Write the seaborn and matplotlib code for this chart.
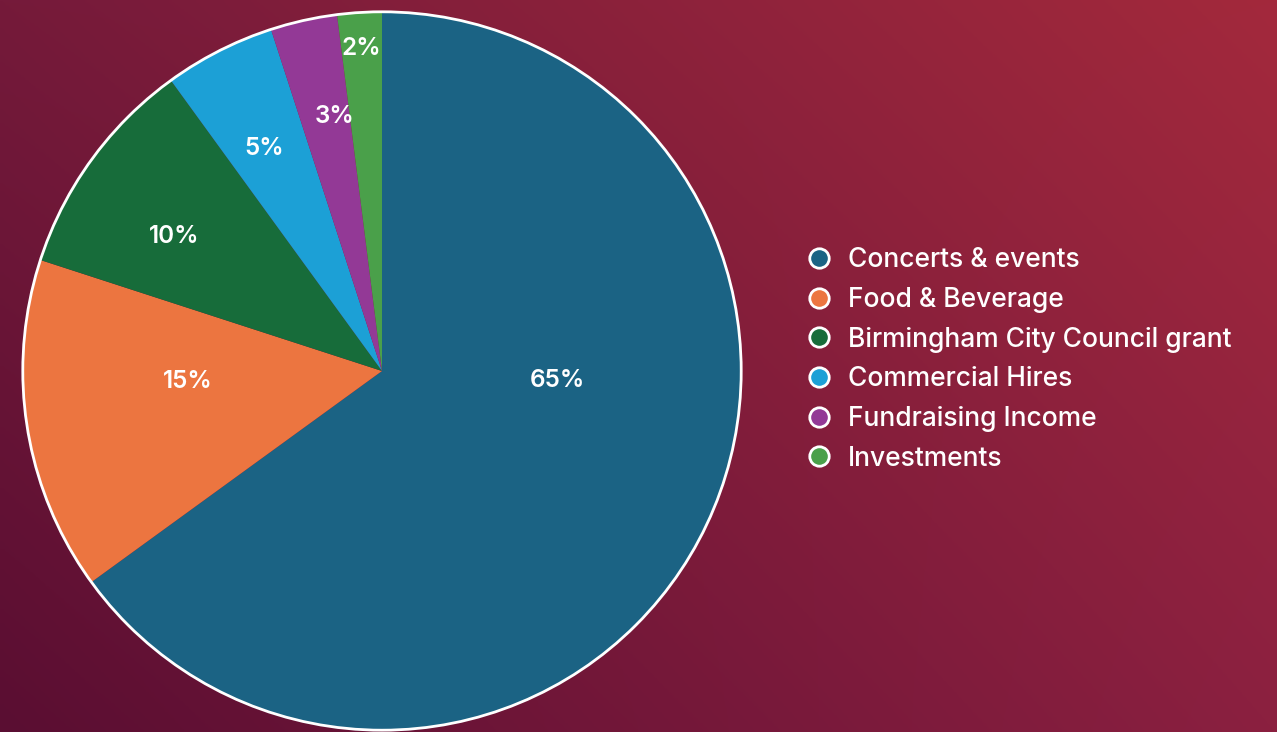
import numpy as np
import matplotlib
matplotlib.use("Agg")
import matplotlib.pyplot as plt
from matplotlib.lines import Line2D
from matplotlib.patches import Circle
from matplotlib.colors import to_rgb
import seaborn as sns

# Income breakdown
sources = ["Concerts & events", "Food & Beverage", "Birmingham City Council grant",
           "Commercial Hires", "Fundraising Income", "Investments"]
shares = [65, 15, 10, 5, 3, 2]
pct_labels = ["65%", "15%", "10%", "5%", "3%", "2%"]
colours = ["#1b6384", "#ec7540", "#176c3a", "#1ca0d6", "#933996", "#4aa04a"]

sns.set_theme(style="white")
plt.rcParams["font.family"] = ["Inter", "DejaVu Sans"]
palette = sns.color_palette(colours)

fig = plt.figure(figsize=(12.77, 7.32), dpi=100)

# background gradient (corner colours: top-left, top-right, bottom-left, bottom-right)
bg = fig.add_axes([0, 0, 1, 1])
tl, tr = np.array(to_rgb("#751a3a")), np.array(to_rgb("#a3293c"))
bl, br = np.array(to_rgb("#5a0e32")), np.array(to_rgb("#8b2040"))
u = np.linspace(0, 1, 256)[None, :, None]
v = np.linspace(0, 1, 256)[:, None, None]
grad = (1 - v) * ((1 - u) * tl + u * tr) + v * ((1 - u) * bl + u * br)
bg.imshow(grad, aspect="auto", extent=[0, 1, 0, 1], origin="upper")
bg.axis("off")

# pie
W, H = 1277, 732
cx, cy, r = 382, 371, 361
ax = fig.add_axes([(cx - r) / W, (H - cy - r) / H, 2 * r / W, 2 * r / H])
wedges, _ = ax.pie(shares, colors=palette, startangle=90, counterclock=False,
                   radius=1, wedgeprops=dict(linewidth=0))
ax.add_patch(Circle((0, 0), 1, fill=False, edgecolor="white", linewidth=2))
ax.set_xlim(-1.005, 1.005)
ax.set_ylim(-1.005, 1.005)
ax.set_aspect("equal")
ax.axis("off")

label_r = [0.49, 0.54, 0.69, 0.70, 0.72, 0.90]
label_shift = [24, -6, 3, 1, -2, 0]
for w, txt, lr, sh in zip(wedges, pct_labels, label_r, label_shift):
    ang = np.deg2rad((w.theta1 + w.theta2) / 2 + sh)
    ax.text(lr * np.cos(ang), lr * np.sin(ang), txt, ha="center", va="center",
            color="white", fontsize=17.5, fontweight="semibold")

handles = [Line2D([0], [0], marker="o", linestyle="none", markersize=14,
                  markerfacecolor=c, markeredgecolor="white", markeredgewidth=2)
           for c in palette]
fig.legend(handles, sources, loc="center left", bbox_to_anchor=(0.6125, 0.509),
           frameon=False, prop=dict(size=19, weight="medium"), labelcolor="white",
           labelspacing=0.52, handletextpad=0.6, handlelength=1.0)

fig.savefig("out.png", dpi=100)
